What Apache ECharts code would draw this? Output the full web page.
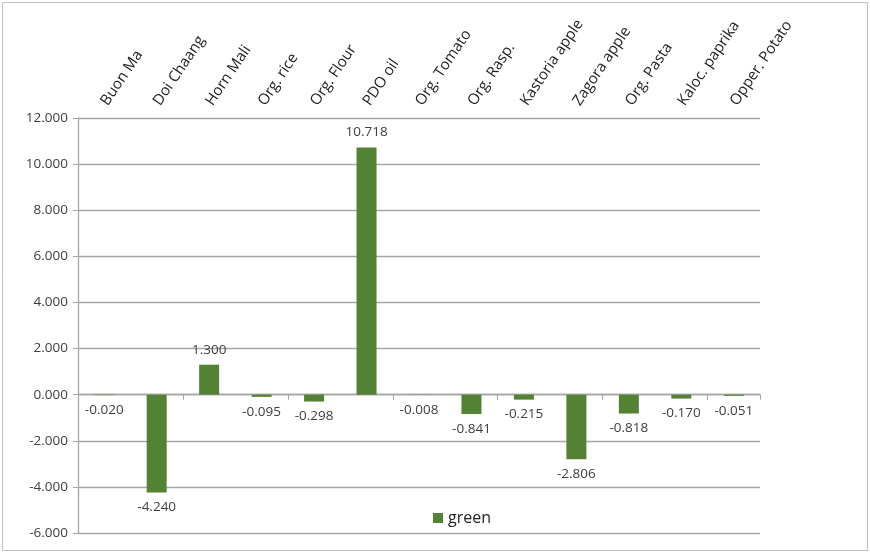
<!DOCTYPE html>
<html>
<head>
<meta charset="utf-8">
<script src="https://cdn.jsdelivr.net/npm/echarts@6/dist/echarts.min.js"></script>
<style>
html,body{margin:0;padding:0;background:#fff;}
#chart{width:870px;height:554px;}
</style>
</head>
<body>
<div id="chart"></div>
<script>
// Product categories and their values
const categories = ['Buon Ma', 'Doi Chaang', 'Horn Mali', 'Org. rice', 'Org. Flour', 'PDO oil',
  'Org. Tomato', 'Org. Rasp.', 'Kastoria apple', 'Zagora apple', 'Org. Pasta', 'Kaloc. paprika', 'Opper. Potato'];
const greenValues = [-0.020, -4.240, 1.300, -0.095, -0.298, 10.718, -0.008, -0.841, -0.215, -2.806, -0.818, -0.170, -0.051];
const seriesName = 'green';
const yMin = -6, yMax = 12, yStep = 2;

const font = '"Open Sans", "DejaVu Sans", sans-serif';
const textColor = '#404040';
const gridColor = '#a6a6a6';

const chart = echarts.init(document.getElementById('chart'));
chart.setOption({
  animation: false,
  textStyle: { fontFamily: font },
  grid: { left: 78, right: 110, top: 118, bottom: 21, containLabel: false },
  legend: {
    data: [seriesName],
    left: 428, top: 505,
    itemWidth: 10, itemHeight: 10, itemGap: 6,
    icon: 'rect',
    textStyle: { fontFamily: font, fontSize: 16, color: '#222' }
  },
  xAxis: [
    {
      // category names above the plot, slanting up to the right
      type: 'category', data: categories, position: 'top',
      axisLine: { show: false, onZero: false }, axisTick: { show: false },
      axisLabel: { rotate: -56, fontSize: 15, color: '#222', margin: 14, interval: 0, fontFamily: font }
    },
    {
      // baseline through zero with tick marks
      type: 'category', data: categories, position: 'bottom',
      axisLine: { show: true, onZero: true, onZeroAxisIndex: 0, lineStyle: { color: gridColor, width: 1.3 } },
      axisTick: { show: true, length: 5, inside: false, lineStyle: { color: gridColor } },
      axisLabel: { show: false }
    }
  ],
  yAxis: {
    type: 'value', min: yMin, max: yMax, interval: yStep,
    axisLine: { show: true, lineStyle: { color: gridColor, width: 1.3 } },
    axisTick: { show: true, length: 5, lineStyle: { color: gridColor } },
    splitLine: { lineStyle: { color: gridColor, width: 1.3 } },
    axisLabel: { formatter: v => v.toFixed(3), fontSize: 13.5, color: textColor, margin: 10, fontFamily: font }
  },
  series: [{
    name: seriesName, type: 'bar', data: greenValues, xAxisIndex: 1,
    barWidth: 20,
    itemStyle: { color: '#548235' },
    label: {
      show: true, position: 'outside',
      formatter: p => p.value.toFixed(3),
      fontSize: 13.5, color: textColor, distance: 8, fontFamily: font
    }
  }],
  graphic: [{
    type: 'rect', shape: { x: 2.5, y: 2.5, width: 865, height: 548 },
    style: { fill: 'none', stroke: '#bfbfbf', lineWidth: 1 }, silent: true
  }]
});
</script>
</body>
</html>
